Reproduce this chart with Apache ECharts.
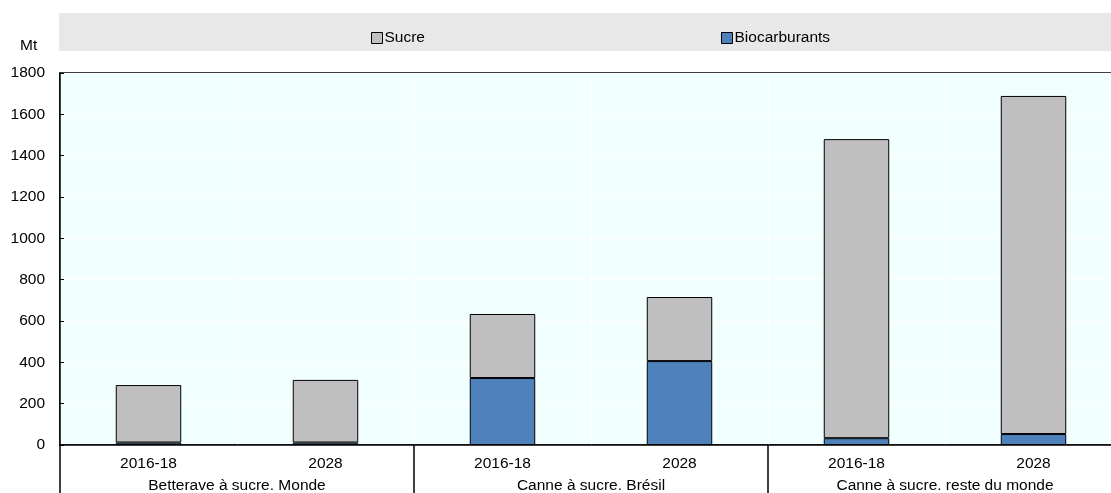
<!DOCTYPE html>
<html>
<head>
<meta charset="utf-8">
<script src="https://cdn.jsdelivr.net/npm/echarts@6/dist/echarts.min.js"></script>
<style>
  html, body { margin: 0; padding: 0; background: #fff; }
  #chart { width: 1111px; height: 493px; }
</style>
</head>
<body>
<div id="chart"></div>
<script>
// données (Mt)
const periods = ["2016-18", "2028", "2016-18", "2028", "2016-18", "2028"];
const groups = ["Betterave à sucre. Monde", "Canne à sucre. Brésil", "Canne à sucre. reste du monde"];
const biocarburants = [12, 12, 324, 406, 33, 53];
const sucre = [278, 303, 310, 310, 1447, 1636];
const yTicks = [0, 200, 400, 600, 800, 1000, 1200, 1400, 1600, 1800];

const font = "'Liberation Sans Narrow', 'Arial Narrow', 'Liberation Sans', Arial, sans-serif";
const fs = 15.5;

const chart = echarts.init(document.getElementById("chart"));

chart.setOption({
  animation: false,
  textStyle: { fontFamily: font, color: "#000" },
  graphic: [
    // bandeau gris de la légende
    { type: "rect", shape: { x: 59, y: 13, width: 1052, height: 38 }, style: { fill: "#E8E8E8" }, silent: true },
    { type: "text", left: 20, top: 38, style: { text: "Mt", fontSize: fs, fontFamily: font, fill: "#000" } }
  ],
  legend: {
    data: ["Sucre", "Biocarburants"],
    left: 366,
    top: 25,
    icon: "rect",
    itemGap: 296,
    itemWidth: 11,
    itemHeight: 11,
    itemStyle: { borderColor: "#000", borderWidth: 1 },
    textStyle: { fontSize: fs, fontFamily: font, color: "#000", padding: [0, 0, 0, -3] }
  },
  grid: {
    left: 60,
    top: 73,
    width: 1062,
    height: 372,
    outerBoundsMode: "none",
    show: true,
    backgroundColor: "#F2FFFF",
    borderColor: "#000",
    borderWidth: 1.5
  },
  xAxis: [
    {
      type: "category",
      data: periods,
      axisLine: { lineStyle: { color: "#000", width: 1.5 } },
      axisTick: { show: false },
      axisLabel: { fontSize: fs, margin: 11, color: "#000" },
      splitLine: { show: true, interval: 0, lineStyle: { color: "#FFFFFF", width: 1 } }
    },
    {
      type: "category",
      data: groups,
      position: "bottom",
      axisLine: { show: false },
      axisTick: { show: true, length: 50, lineStyle: { color: "#000", width: 1.5 } },
      axisLabel: { fontSize: fs, margin: 33, color: "#000", interval: 0 }
    }
  ],
  yAxis: {
    type: "value",
    min: 0,
    max: 1800,
    interval: 200,
    axisLine: { show: true, lineStyle: { color: "#000", width: 1.5 } },
    axisTick: { show: true, inside: true, length: 4, lineStyle: { color: "#000" } },
    axisLabel: {
      fontSize: fs,
      margin: 15,
      color: "#000",
      formatter: v => (yTicks.includes(v) ? String(v) : "")
    },
    splitLine: { show: true, lineStyle: { color: "#FFFFFF", width: 1 } }
  },
  series: [
    {
      name: "Biocarburants",
      type: "bar",
      stack: "total",
      barWidth: "37%",
      data: biocarburants,
      itemStyle: { color: "#4F81BD", borderColor: "#000", borderWidth: 1 }
    },
    {
      name: "Sucre",
      type: "bar",
      stack: "total",
      barWidth: "37%",
      data: sucre,
      itemStyle: { color: "#BFBFBF", borderColor: "#000", borderWidth: 1 }
    }
  ]
});
</script>
</body>
</html>
